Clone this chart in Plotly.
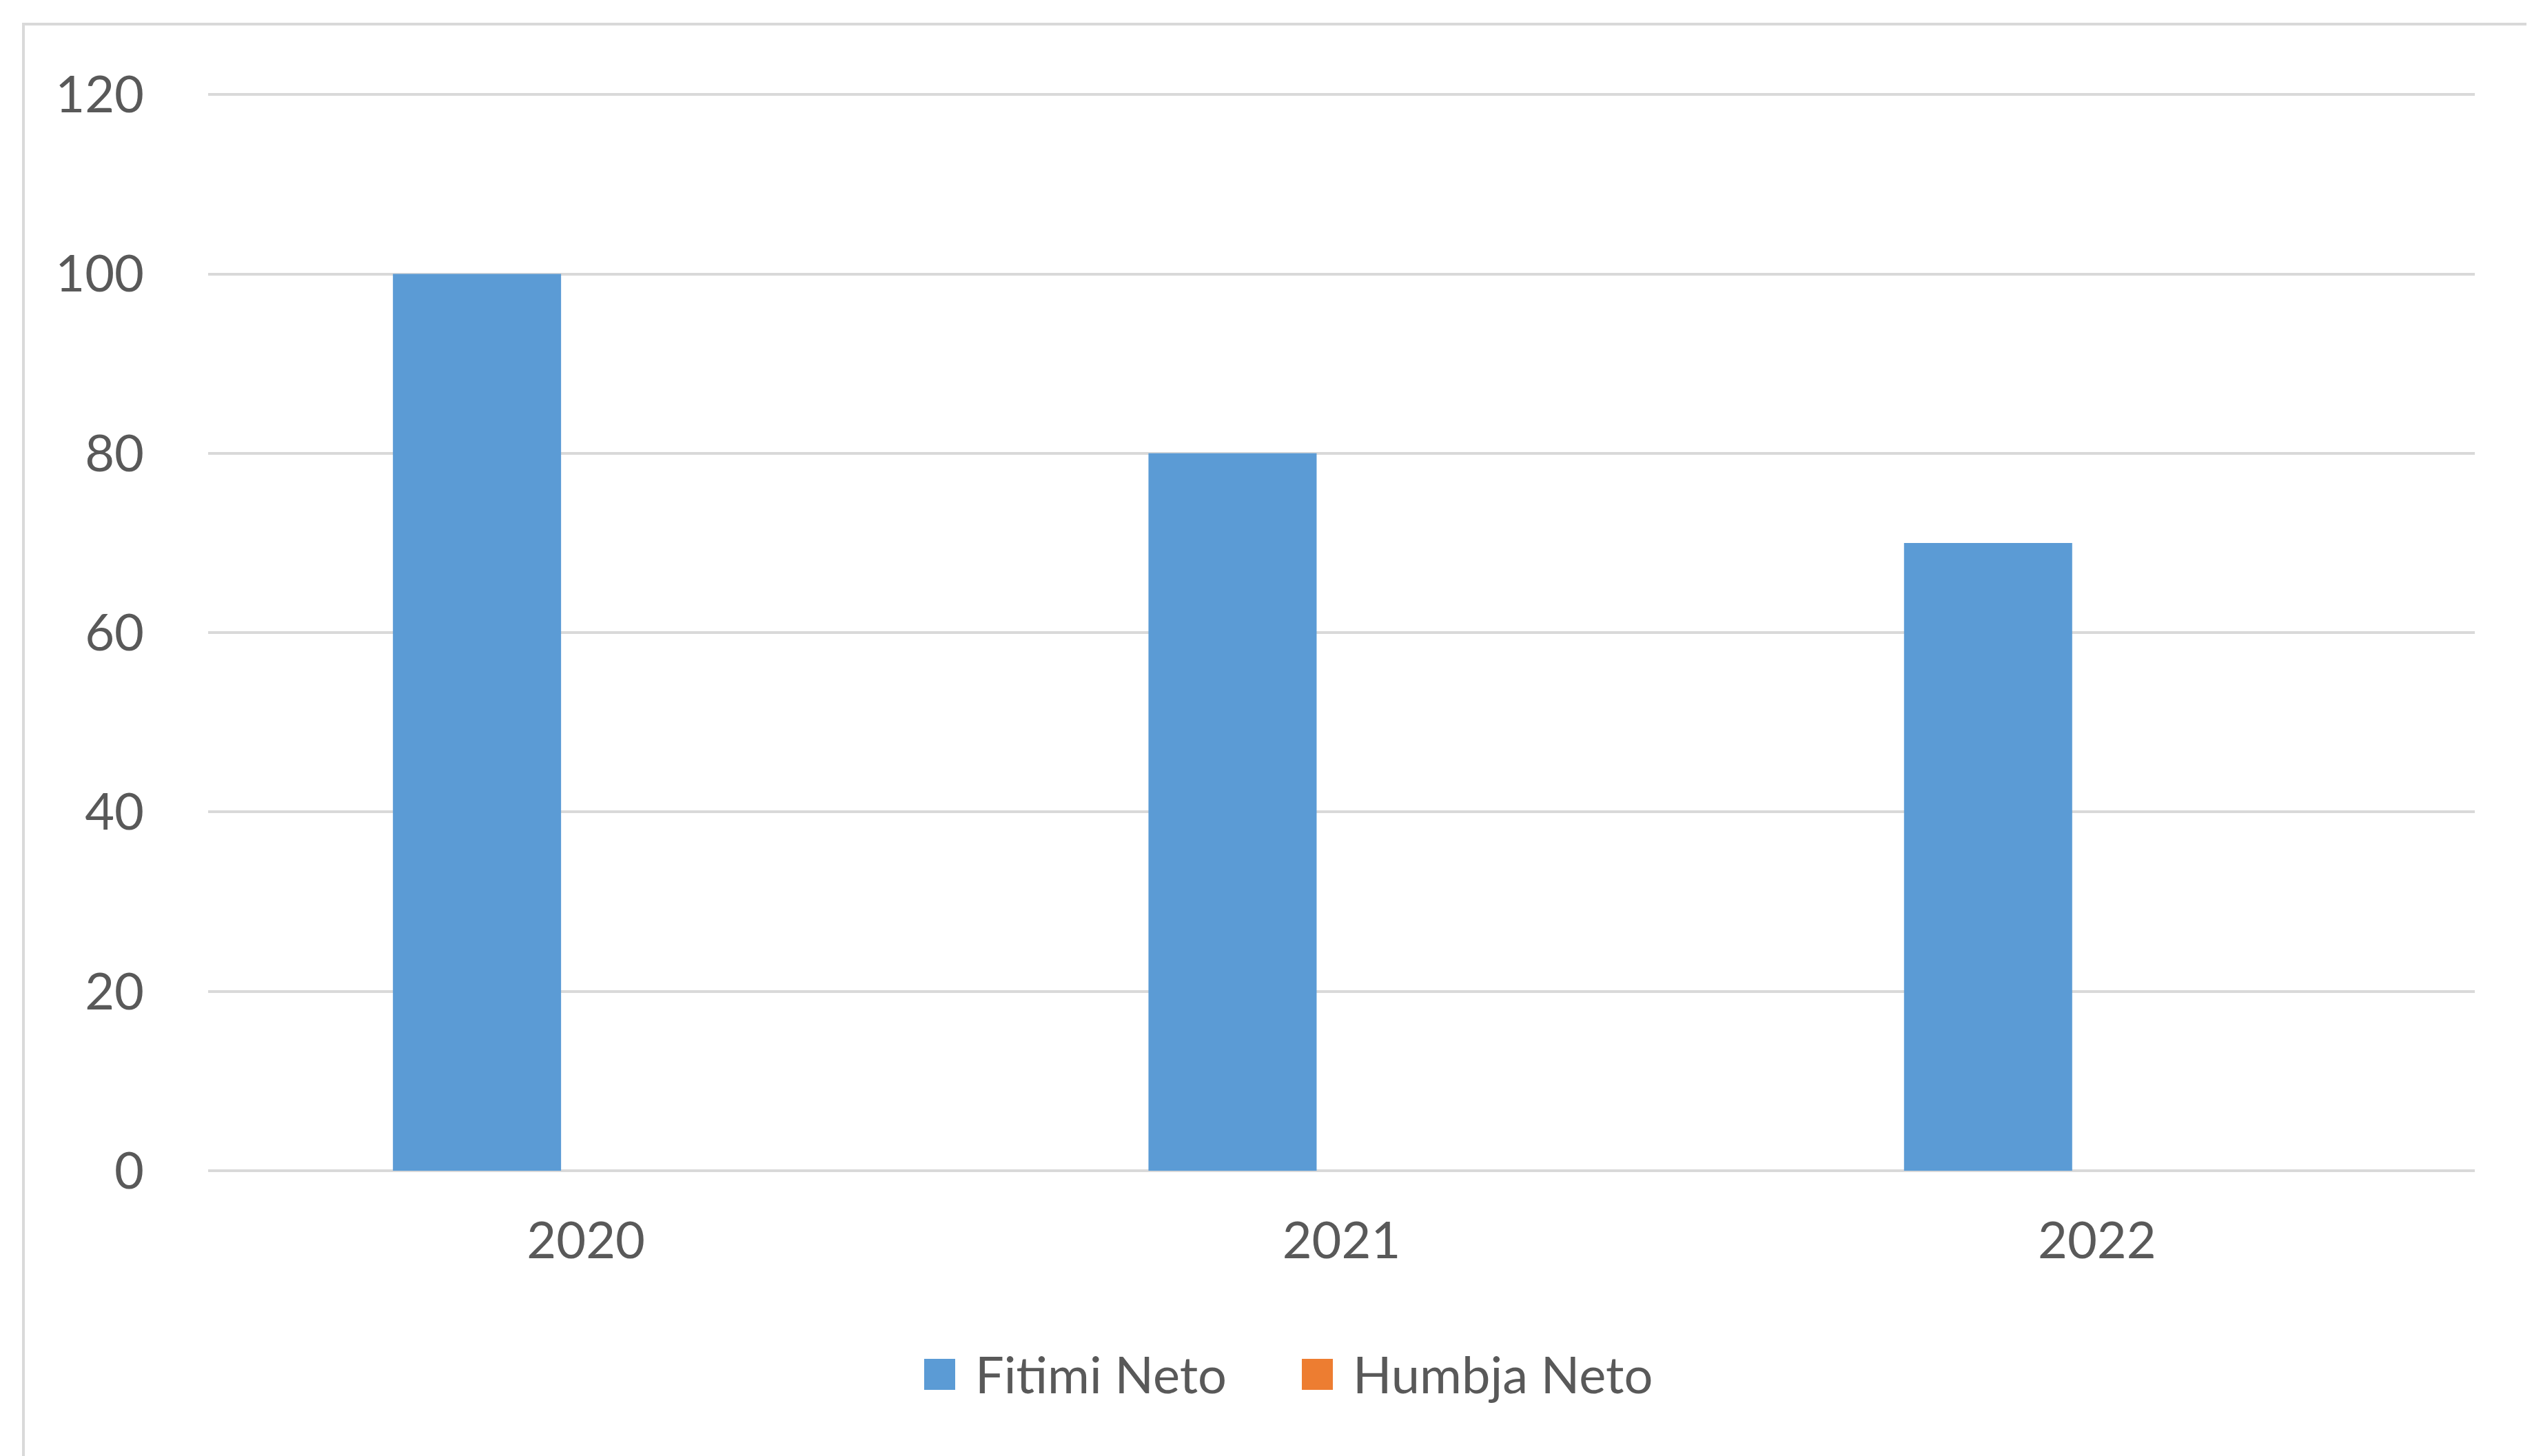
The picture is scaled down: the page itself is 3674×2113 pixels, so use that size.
import plotly.graph_objects as go

# ---- data ----
years = ["2020", "2021", "2022"]
series_names = ["Fitimi Neto", "Humbja Neto"]
fitimi_neto = [100, 80, 70]
humbja_neto = [0, 0, 0]
colors = ["#5B9BD5", "#ED7D31"]
y_ticks = [0, 20, 40, 60, 80, 100, 120]

W, H = 3674, 2113
UNIT = (1691 - 129) / 120.0          # px per y unit in the reference
Y_TOP = 120.25
L, R, B = 294, 91, 422
T = int(round(1691 - Y_TOP * UNIT))
PW, PH = W - L - R, H - T - B
TXT = "#595959"
GRID = "#D9D9D9"
FONT = "Lato"
FS = 74


def px(x):
    return (x - L) / PW


def py(y):
    return (H - B - y) / PH


fig = go.Figure()
for name, vals, col in zip(series_names, [fitimi_neto, humbja_neto], colors):
    fig.add_trace(go.Bar(x=years, y=vals, name=name, marker_color=col,
                         marker_line_width=0, showlegend=False))

shapes = [
    dict(type="rect", xref="paper", yref="paper",
         x0=px(26), x1=px(3720), y0=py(2160), y1=py(27),
         line=dict(color=GRID, width=4), fillcolor="rgba(0,0,0,0)", layer="below"),
]
annotations = []
# legend (manual, to match large square keys)
leg_sq_x = [1333, 1881]
leg_tx_x = [1405, 1953]
leg_y = 1986
for name, col, sx, tx in zip(series_names, colors, leg_sq_x, leg_tx_x):
    shapes.append(dict(type="rect", xref="paper", yref="paper",
                       x0=px(sx), x1=px(sx + 45), y0=py(leg_y + 23), y1=py(leg_y - 22),
                       line=dict(width=0), fillcolor=col))
    annotations.append(dict(xref="paper", yref="paper", x=px(tx), y=py(leg_y),
                            xanchor="left", yanchor="middle", showarrow=False,
                            text=name, font=dict(family=FONT, size=FS, color=TXT)))

fig.update_layout(
    width=W, height=H,
    margin=dict(l=L, r=R, t=T, b=B, pad=0),
    paper_bgcolor="white", plot_bgcolor="white",
    barmode="group", bargap=0.4234, bargroupgap=0.228,
    font=dict(family=FONT, size=FS, color=TXT),
    shapes=shapes, annotations=annotations,
    showlegend=False,
)
fig.update_xaxes(type="category", showgrid=False, showline=False, zeroline=False,
                 ticks="", tickfont=dict(family=FONT, size=FS, color=TXT),
                 ticklabelstandoff=52)
fig.update_yaxes(range=[0, Y_TOP], tickvals=y_ticks, showgrid=True, gridcolor=GRID,
                 gridwidth=4, zeroline=True, zerolinecolor=GRID, zerolinewidth=4,
                 showline=False, ticks="", tickfont=dict(family=FONT, size=FS, color=TXT),
                 ticklabelstandoff=92)

fig.write_html("out.html")
